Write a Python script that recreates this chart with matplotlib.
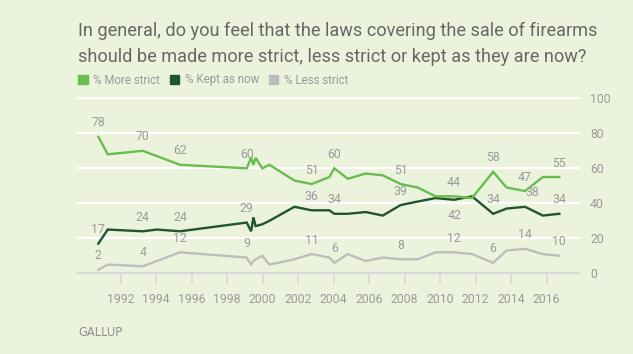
#!/usr/bin/env python3
"""
Gallup: laws covering the sale of firearms (more strict / kept / less strict).
Saves: out.png
"""

import matplotlib.pyplot as plt
from matplotlib import font_manager
from matplotlib.patches import Patch

# survey dates (decimal years) and percentages
years = [1990.74, 1991.27, 1993.24, 1994.03, 1995.34, 1999.10, 1999.35, 1999.48,
         1999.60, 1999.98, 2000.38, 2001.79, 2002.76, 2003.76, 2004.04, 2004.80,
         2005.81, 2006.77, 2007.78, 2008.74, 2009.75, 2010.79, 2011.80, 2012.99,
         2013.75, 2014.79, 2015.79, 2016.72]
more_strict = [78, 68, 70, 67, 62, 60, 66, 62, 66, 60, 62, 53, 51, 55, 60, 54,
               57, 56, 51, 49, 44, 44, 43, 58, 49, 47, 55, 55]
kept_as_now = [17, 25, 24, 25, 24, 29, 24, 32, 27, 28, 30, 38, 36, 36, 34, 34,
               35, 33, 39, 41, 43, 42, 44, 34, 37, 38, 33, 34]
less_strict = [2, 5, 4, 7, 12, 9, 5, 7, 8, 10, 5, 8, 11, 9, 6, 11,
               7, 9, 8, 8, 12, 12, 11, 6, 13, 14, 11, 10]

# which survey points carry a value label
labelled = [0, 2, 4, 5, 12, 14, 18, 21, 23, 25, 27]

x_ticks = list(range(1992, 2017, 2))
y_ticks = [0, 20, 40, 60, 80, 100]

TITLE = ["In general, do you feel that the laws covering the sale of firearms",
         "should be made more strict, less strict or kept as they are now?"]

BG = "#ecf3dd"
C_MORE = "#69bd4f"
C_KEPT = "#22542f"
C_LESS = "#bdbdbd"
C_TEXT = "#676767"
C_LABEL = "#9a9a9a"
C_AXIS = "#d8d8d8"

W, H = 633, 354

installed = {f.name for f in font_manager.fontManager.ttflist}
if "Liberation Sans Narrow" in installed:
    FONT = "Liberation Sans Narrow"
    TSIZE = 14.6
else:
    FONT = "Roboto"
    TSIZE = 13.1
plt.rcParams["font.family"] = [FONT, "DejaVu Sans"]


def main():
    fig = plt.figure(figsize=(W / 100, H / 100), dpi=100, facecolor=BG)
    x0, x1, y0, y1 = 78.3, 579, 273.3, 98.3
    ax = fig.add_axes([x0 / W, 1 - y0 / H, (x1 - x0) / W, (y0 - y1) / H])
    ax.set_facecolor(BG)
    ax.set_xlim(1989.61, 2017.83)
    ax.set_ylim(0, 100)

    for y in y_ticks[1:]:
        ax.axhline(y, color="white", lw=1.6, zorder=1, clip_on=False)

    for vals, col in ((less_strict, C_LESS), (kept_as_now, C_KEPT), (more_strict, C_MORE)):
        ax.plot(years, vals, color=col, lw=1.7, solid_joinstyle="miter", zorder=3)

    # value labels
    for i in labelled:
        for vals, series in ((more_strict, "m"), (kept_as_now, "k"), (less_strict, "l")):
            dx, dy = 0, 10
            if series == "k" and i == 21:
                dy = -11.5
            if series == "k" and i == 25:
                dx = 5
            ax.annotate(str(vals[i]), (years[i], vals[i]), xytext=(dx, dy),
                        textcoords="offset points", ha="center", va="center",
                        fontsize=8.8, color=C_LABEL, zorder=4)

    for side in ("top", "left", "right"):
        ax.spines[side].set_visible(False)
    ax.spines["bottom"].set_color(C_AXIS)
    ax.spines["bottom"].set_linewidth(1.6)

    ax.set_xticks(x_ticks)
    ax.set_xticklabels([str(t) for t in x_ticks])
    ax.tick_params(axis="x", direction="out", length=8, width=1.2, color=C_AXIS,
                   pad=6.5, labelsize=8.8, labelcolor=C_LABEL)
    ax.yaxis.tick_right()
    ax.set_yticks(y_ticks)
    ax.tick_params(axis="y", length=0, pad=8, labelsize=8.8, labelcolor=C_LABEL)
    for lab in ax.get_yticklabels():
        lab.set_horizontalalignment("left")

    # title
    fig.text(78 / W, 1 - 36.5 / H, TITLE[0], fontsize=TSIZE, color=C_TEXT, va="baseline")
    fig.text(78 / W, 1 - 62.5 / H, TITLE[1], fontsize=TSIZE, color=C_TEXT, va="baseline")

    handles = [Patch(color=C_MORE, label="% More strict"),
               Patch(color=C_KEPT, label="% Kept as now"),
               Patch(color=C_LESS, label="% Less strict")]
    fig.legend(handles=handles, loc="center left", bbox_to_anchor=(78.3 / W, 1 - 80 / H),
               ncol=3, frameon=False, fontsize=8.3, handlelength=0.8, handleheight=0.8,
               handletextpad=0.5, columnspacing=0.85, borderaxespad=0, borderpad=0,
               labelcolor=C_LABEL)

    fig.text(78 / W, 1 - 333 / H, "GALLUP", fontsize=8.3, color="#8f8f8f",
             family="DejaVu Sans", va="center")

    fig.savefig("out.png", dpi=100, facecolor=BG)
    plt.close(fig)


if __name__ == "__main__":
    main()
